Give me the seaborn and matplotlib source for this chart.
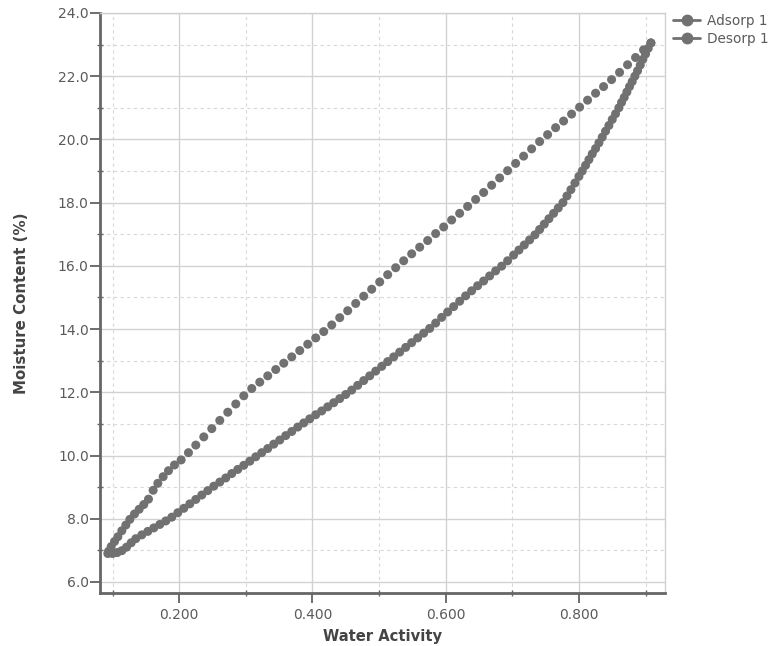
import numpy as np
import pandas as pd
import matplotlib
matplotlib.use("Agg")
import matplotlib.pyplot as plt
from matplotlib.lines import Line2D
from matplotlib.ticker import MultipleLocator, FormatStrFormatter
import seaborn as sns

series_names = ["Adsorp 1", "Desorp 1"]

adsorp_aw = [0.093, 0.100, 0.107, 0.114, 0.121, 0.128, 0.135, 0.144, 0.153, 0.162,
             0.171, 0.180, 0.189, 0.198, 0.207, 0.216, 0.225, 0.234, 0.243, 0.252,
             0.261, 0.270, 0.279, 0.288, 0.297, 0.306, 0.315, 0.324, 0.333, 0.342,
             0.351, 0.360, 0.369, 0.378, 0.387, 0.396, 0.405, 0.414, 0.423, 0.432,
             0.441, 0.450, 0.459, 0.468, 0.477, 0.486, 0.495, 0.504, 0.513, 0.522,
             0.531, 0.540, 0.549, 0.558, 0.567, 0.576, 0.585, 0.594, 0.603, 0.612,
             0.621, 0.630, 0.639, 0.648, 0.657, 0.666, 0.675, 0.684, 0.693, 0.702,
             0.710, 0.718, 0.726, 0.734, 0.741, 0.748, 0.755, 0.762, 0.769, 0.776,
             0.782, 0.788, 0.794, 0.800, 0.805, 0.810, 0.815, 0.820, 0.825, 0.830,
             0.835, 0.840, 0.845, 0.850, 0.855, 0.860, 0.864, 0.868, 0.872, 0.876,
             0.880, 0.884, 0.888, 0.892, 0.896, 0.900, 0.904, 0.908]
adsorp_mc = [6.90, 6.90, 6.93, 6.99, 7.10, 7.24, 7.37, 7.49, 7.60, 7.71,
             7.82, 7.93, 8.05, 8.19, 8.33, 8.47, 8.61, 8.75, 8.89, 9.03,
             9.16, 9.29, 9.43, 9.56, 9.69, 9.82, 9.96, 10.09, 10.22, 10.36,
             10.49, 10.63, 10.76, 10.90, 11.03, 11.16, 11.29, 11.41, 11.54, 11.67,
             11.80, 11.93, 12.07, 12.22, 12.37, 12.52, 12.67, 12.82, 12.97, 13.12,
             13.27, 13.42, 13.57, 13.72, 13.87, 14.02, 14.19, 14.37, 14.54, 14.71,
             14.88, 15.05, 15.21, 15.37, 15.52, 15.68, 15.84, 15.99, 16.16, 16.34,
             16.50, 16.66, 16.82, 16.98, 17.15, 17.32, 17.49, 17.66, 17.83, 18.00,
             18.21, 18.41, 18.62, 18.83, 19.00, 19.18, 19.36, 19.54, 19.71, 19.89,
             20.07, 20.26, 20.44, 20.63, 20.81, 21.00, 21.17, 21.33, 21.50, 21.67,
             21.83, 22.00, 22.17, 22.35, 22.53, 22.70, 22.88, 23.05]

desorp_aw = [0.908, 0.897, 0.885, 0.873, 0.861, 0.849, 0.837, 0.825, 0.813, 0.801,
             0.789, 0.777, 0.765, 0.753, 0.741, 0.729, 0.717, 0.705, 0.693, 0.681,
             0.669, 0.657, 0.645, 0.633, 0.621, 0.609, 0.597, 0.585, 0.573, 0.561,
             0.549, 0.537, 0.525, 0.513, 0.501, 0.489, 0.477, 0.465, 0.453, 0.441,
             0.429, 0.417, 0.405, 0.393, 0.381, 0.369, 0.357, 0.345, 0.333, 0.321,
             0.309, 0.297, 0.285, 0.273, 0.261, 0.249, 0.237, 0.225, 0.214, 0.203,
             0.193, 0.184, 0.176, 0.168, 0.161, 0.154, 0.147, 0.140, 0.133, 0.126,
             0.120, 0.114, 0.108, 0.103, 0.098, 0.094]
desorp_mc = [23.05, 22.83, 22.59, 22.36, 22.12, 21.89, 21.67, 21.46, 21.24, 21.02,
             20.80, 20.58, 20.37, 20.15, 19.93, 19.70, 19.47, 19.24, 19.01, 18.78,
             18.55, 18.32, 18.10, 17.88, 17.66, 17.45, 17.23, 17.02, 16.80, 16.59,
             16.38, 16.16, 15.94, 15.72, 15.49, 15.26, 15.04, 14.81, 14.58, 14.36,
             14.13, 13.92, 13.72, 13.52, 13.32, 13.12, 12.92, 12.72, 12.52, 12.32,
             12.12, 11.89, 11.63, 11.37, 11.11, 10.85, 10.59, 10.33, 10.09, 9.86,
             9.70, 9.52, 9.33, 9.12, 8.90, 8.62, 8.45, 8.30, 8.15, 7.98,
             7.80, 7.62, 7.43, 7.28, 7.12, 6.97]

x_ticks = [0.2, 0.4, 0.6, 0.8]
y_ticks = [6.0, 8.0, 10.0, 12.0, 14.0, 16.0, 18.0, 20.0, 22.0, 24.0]

df = pd.concat([
    pd.DataFrame({"aw": adsorp_aw, "mc": adsorp_mc, "series": series_names[0]}),
    pd.DataFrame({"aw": desorp_aw, "mc": desorp_mc, "series": series_names[1]}),
], ignore_index=True)

sns.set_theme(style="white")
plt.rcParams['font.family'] = ['DejaVu Sans']

marker_color = "#717171"
text_color = "#5a5a5a"

fig = plt.figure(figsize=(7.74, 6.46), dpi=100)
ax = fig.add_axes([0.129, 0.082, 0.730, 0.898])

sns.scatterplot(data=df, x="aw", y="mc", hue="series",
                palette=[marker_color, marker_color], s=42, edgecolor="none",
                legend=False, ax=ax, zorder=3)

ax.set_xlim(0.081, 0.929)
ax.set_ylim(5.65, 24.0)

ax.set_xticks(x_ticks)
ax.set_yticks(y_ticks)
ax.xaxis.set_minor_locator(MultipleLocator(0.1))
ax.yaxis.set_minor_locator(MultipleLocator(1.0))
ax.xaxis.set_major_formatter(FormatStrFormatter("%.3f"))
ax.yaxis.set_major_formatter(FormatStrFormatter("%.1f"))

ax.grid(which="major", color="#d2d2d2", linewidth=1.0, linestyle="-", zorder=0)
ax.grid(which="minor", color="#d8d8d8", linewidth=0.8, linestyle=(0, (3, 3)), zorder=0)
ax.set_axisbelow(True)

ax.tick_params(axis="both", which="major", direction="out", length=7, width=1.2,
               color="#555555", labelsize=10, labelcolor=text_color, pad=1,
               left=True, bottom=True)
ax.tick_params(axis="x", which="major", pad=4)
ax.tick_params(axis="both", which="minor", direction="inout", length=5, width=1.0,
               color="#666666", left=True, bottom=True)

for side in ["left", "bottom"]:
    ax.spines[side].set_color("#666666")
    ax.spines[side].set_linewidth(2.0)
for side in ["top", "right"]:
    ax.spines[side].set_color("#d0d0d0")
    ax.spines[side].set_linewidth(1.0)

ax.set_xlabel("Water Activity", fontsize=10.6, fontweight="bold", color="#444444", labelpad=5)
ax.set_ylabel("Moisture Content (%)", fontsize=10.8, fontweight="bold", color="#444444", labelpad=21)

handles = [Line2D([0], [0], color=marker_color, linewidth=2, marker="o",
                  markersize=7.5, markerfacecolor=marker_color, markeredgecolor=marker_color)
           for _ in series_names]
leg = ax.legend(handles, series_names, loc="upper left", bbox_to_anchor=(1.0, 1.012),
                frameon=False, fontsize=9.8, handlelength=2.0, handletextpad=0.5,
                labelspacing=0.25, borderaxespad=0.2)
for t in leg.get_texts():
    t.set_color(text_color)

fig.savefig("out.png", dpi=100)
